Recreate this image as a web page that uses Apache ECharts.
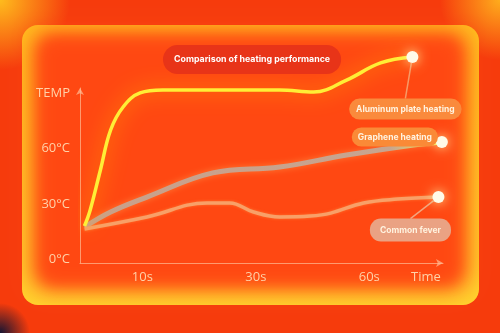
<!DOCTYPE html>
<html>
<head>
<meta charset="utf-8">
<script src="https://cdn.jsdelivr.net/npm/echarts@6/dist/echarts.min.js"></script>
<style>
  html, body { margin: 0; padding: 0; background: #f63b0c; }
  #chart { width: 500px; height: 333px; }
</style>
</head>
<body>
<div id="chart"></div>
<script>
// x is in "slot" units: 1 = 10s, 2 = 30s, 3 = 60s, 3.5 = Time label
var xTickValues = [1, 2, 3, 3.5];
var xTickLabels = ['10s', '30s', '60s', 'Time'];
var yTickValues = [0, 30, 60, 90];
var yTickLabels = ['0°C', '30°C', '60°C', 'TEMP'];

var titleText = 'Comparison of heating performance';
var seriesNames = ['Aluminum plate heating', 'Graphene heating', 'Common fever'];

var aluminumX = [0.49, 0.54, 0.63, 0.72, 0.83, 0.98, 1.18, 1.69, 2.21, 2.51, 2.80, 3.10, 3.38];
var aluminumY = [18.1, 26.8, 48.5, 70.2, 82.7, 90.3, 91.9, 91.9, 91.9, 90.8, 97.3, 106.6, 109.8];

var grapheneX = [0.49, 0.72, 1.04, 1.62, 2.21, 2.80, 3.39, 3.64];
var grapheneY = [17.5, 25.7, 33.8, 46.9, 50.1, 56.6, 62.1, 63.7];

var commonX = [0.49, 1.04, 1.57, 1.77, 1.98, 2.21, 2.48, 2.66, 2.95, 3.25, 3.61];
var commonY = [16.5, 23.0, 30.6, 30.6, 25.7, 23.0, 23.5, 25.1, 30.6, 32.7, 33.8];

// 把最后一个点做成白色发光圆点，并挂上标签
function buildData(xs, ys, labelOpt) {
    return xs.map(function (x, i) {
        if (i !== xs.length - 1) return [x, ys[i]];
        return {
            value: [x, ys[i]],
            symbol: 'circle',
            symbolSize: 12,
            itemStyle: { color: '#fffbe8', shadowBlur: 12, shadowColor: '#fff2a0' },
            label: labelOpt
        };
    });
}

function pill(bg, padX, padY) {
    return {
        show: true,
        position: 'inside',
        formatter: '{a}',
        color: '#fff3e0',
        fontFamily: 'Inter',
        fontWeight: 'bold',
        fontSize: 8.5,
        backgroundColor: bg,
        borderRadius: 11,
        padding: [padY, padX]
    };
}

var myChart = echarts.init(document.getElementById('chart'));
myChart.setOption({
    backgroundColor: '#f63b0c',
    animation: false,
    graphic: [
        // 外框四角的光晕
        { type: 'circle', z: -30, shape: { cx: 0, cy: 0, r: 70 },
          style: { fill: new echarts.graphic.RadialGradient(0.5, 0.5, 0.5, [
              { offset: 0, color: 'rgba(255,195,30,0.95)' }, { offset: 1, color: 'rgba(255,195,30,0)' }]) } },
        { type: 'circle', z: -30, shape: { cx: 500, cy: 0, r: 60 },
          style: { fill: new echarts.graphic.RadialGradient(0.5, 0.5, 0.5, [
              { offset: 0, color: 'rgba(255,185,30,0.9)' }, { offset: 1, color: 'rgba(255,185,30,0)' }]) } },
        { type: 'circle', z: -30, shape: { cx: 0, cy: 333, r: 30 },
          style: { fill: new echarts.graphic.RadialGradient(0.5, 0.5, 0.5, [
              { offset: 0, color: 'rgba(20,20,50,1)' }, { offset: 1, color: 'rgba(20,20,50,0)' }]) } },
        // 内部面板：黄色边框
        { type: 'rect', z: -20, shape: { x: 22, y: 25, width: 457, height: 280, r: 16 },
          style: { fill: new echarts.graphic.LinearGradient(0, 0, 0, 1, [
              { offset: 0, color: '#ffc21e' }, { offset: 1, color: '#ffd52e' }]) } },
        // 红橙内芯：画在画布外，只留下模糊的阴影
        { type: 'rect', z: -19, shape: { x: 33 - 2000, y: 32, width: 434, height: 257, r: 14 },
          style: { fill: '#ff4712', shadowBlur: 24, shadowColor: '#ff4a12', shadowOffsetX: 2000 } },
        { type: 'rect', z: -18, shape: { x: 40 - 2000, y: 38, width: 420, height: 246, r: 14 },
          style: { fill: '#ff4712', shadowBlur: 14, shadowColor: 'rgba(255,71,18,0.8)', shadowOffsetX: 2000 } }
    ],
    title: {
        text: titleText,
        left: 163,
        top: 45,
        backgroundColor: '#e83418',
        borderRadius: 16,
        padding: [10, 11],
        textStyle: {
            color: '#ffffff',
            fontFamily: 'Inter',
            fontWeight: 'bold',
            fontSize: 8.8
        }
    },
    grid: {
        left: 80,
        right: 57,
        top: 88,
        bottom: 70
    },
    xAxis: {
        type: 'value',
        min: 0.45,
        max: 3.65,
        axisLine: {
            onZero: false,
            symbol: ['none', 'arrow'],
            symbolSize: [6, 7],
            lineStyle: { color: 'rgba(255,190,150,0.7)', width: 1 }
        },
        axisTick: { show: false },
        splitLine: { show: false },
        axisLabel: {
            customValues: xTickValues,
            margin: 8,
            color: '#ffd2a8',
            fontFamily: 'Open Sans',
            fontSize: 13,
            formatter: function (v) {
                return xTickLabels[xTickValues.indexOf(v)];
            }
        }
    },
    yAxis: {
        type: 'value',
        min: -2,
        max: 93,
        axisLine: {
            show: true,
            symbol: ['none', 'arrow'],
            symbolSize: [6, 7],
            lineStyle: { color: 'rgba(255,190,150,0.7)', width: 1 }
        },
        axisTick: { show: false },
        splitLine: { show: false },
        axisLabel: {
            customValues: yTickValues,
            margin: 10,
            color: '#ffd2a8',
            fontFamily: 'Open Sans',
            fontSize: 13,
            formatter: function (v) {
                return yTickLabels[yTickValues.indexOf(v)];
            }
        }
    },
    series: [{
        name: seriesNames[1],
        type: 'line',
        smooth: 0.4,
        clip: false,
        symbol: 'none',
        z: 3,
        lineStyle: {
            width: 5,
            color: new echarts.graphic.LinearGradient(0, 0, 1, 0, [
                { offset: 0, color: '#c9a08a' },
                { offset: 0.85, color: '#c7a590' },
                { offset: 1, color: '#fff04a' }
            ]),
            shadowBlur: 6,
            shadowColor: 'rgba(255,160,80,0.6)'
        },
        labelLayout: { dx: -47, dy: -5 },
        data: buildData(grapheneX, grapheneY, pill('#fa8a37', 6, 5))
    }, {
        name: seriesNames[2],
        type: 'line',
        smooth: 0.4,
        clip: false,
        symbol: 'none',
        z: 3,
        lineStyle: {
            width: 3.5,
            color: '#f8a068',
            shadowBlur: 3,
            shadowColor: 'rgba(255,150,70,0.6)'
        },
        labelLine: {
            show: true,
            lineStyle: { color: '#f2a57e', width: 1.5 }
        },
        labelLayout: { dx: -28, dy: 33 },
        data: buildData(commonX, commonY, pill('#eaa283', 10, 7))
    }, {
        name: seriesNames[0],
        type: 'line',
        smooth: 0.4,
        clip: false,
        symbol: 'none',
        z: 4,
        lineStyle: {
            width: 3.5,
            color: '#ffee36',
            shadowBlur: 20,
            shadowColor: '#ffb400'
        },
        labelLine: {
            show: true,
            lineStyle: { color: '#f79a66', width: 1.5 }
        },
        labelLayout: { dx: -7, dy: 52 },
        data: buildData(aluminumX, aluminumY, pill('#fa8a3c', 7, 6))
    }]
});
</script>
</body>
</html>
